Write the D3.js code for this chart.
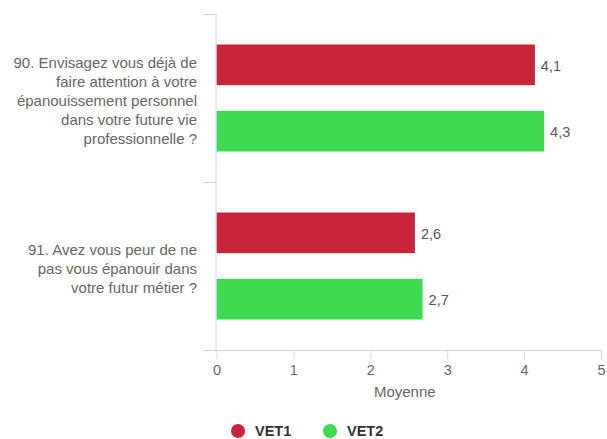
<!DOCTYPE html>
<html><head><meta charset="utf-8">
<script src="https://cdn.jsdelivr.net/npm/d3@7"></script>
<style>body{margin:0;background:#fff;font-family:"Liberation Sans",Arial,Helvetica,sans-serif}</style>
</head><body><svg id="c" width="607" height="439"></svg>
<script>
const categories = [
  ["90. Envisagez vous déjà de","faire attention à votre","épanouissement personnel","dans votre future vie","professionnelle ?"],
  ["91. Avez vous peur de ne","pas vous épanouir dans","votre futur métier ?"]
];
const seriesNames = ["VET1","VET2"];
const seriesColors = ["#c9253a","#3dd94f"];
const vet1 = [4.14, 2.58];
const vet2 = [4.26, 2.68];
const xTicks = [0,1,2,3,4,5];
const xTitle = "Moyenne";

const svg = d3.select("#c");
const L = 216.5, R = 601, T = 14, B = 350;
const x = d3.scaleLinear().domain([0,5]).range([L,R]);
const y0 = d3.scaleBand().domain(d3.range(categories.length)).range([T,B]);
const y1 = d3.scaleBand().domain([0,1]).range([0,y0.bandwidth()]).paddingInner(0.388).paddingOuter(0.46);
const axisColor = "#ccd6eb";

// bars
const series = [vet1, vet2];
series.forEach((vals, si) => {
  svg.append("g").selectAll("rect").data(vals).join("rect")
    .attr("x", x(0)).attr("y", (d,i) => y0(i) + y1(si))
    .attr("width", d => x(d) - x(0)).attr("height", y1.bandwidth())
    .attr("fill", seriesColors[si]);
  svg.append("g").selectAll("text").data(vals).join("text")
    .attr("x", d => x(d) + 6).attr("y", (d,i) => y0(i) + y1(si) + y1.bandwidth()/2 + 1)
    .attr("dy","0.35em").attr("font-size",14.5).attr("fill","#555")
    .text(d => d.toFixed(1).replace(".",","));
});

// x axis
const xa = svg.append("g").attr("transform",`translate(0,${B})`)
  .call(d3.axisBottom(x).tickValues(xTicks).tickSize(9).tickPadding(6).tickFormat(d=>d));
xa.select(".domain").attr("stroke",axisColor).attr("d",`M${L-13},0.5H${R}`);
xa.selectAll(".tick line").attr("stroke",axisColor);
xa.selectAll(".tick text").attr("fill","#666").attr("font-size",14.5).attr("font-family","Liberation Sans, Arial");
svg.append("text").attr("x",(L+R)/2 - 4).attr("y",B+42).attr("dy","0.35em").attr("text-anchor","middle")
  .attr("fill","#666").attr("font-size",15).text(xTitle);

// y axis
svg.append("line").attr("x1",L-0.5).attr("x2",L-0.5).attr("y1",T).attr("y2",B).attr("stroke",axisColor);
const bounds = [T, ...categories.map((c,i)=>y0(i)+y0.bandwidth())];
svg.append("g").selectAll("line").data(bounds).join("line")
  .attr("x1",L-13).attr("x2",L).attr("y1",d=>Math.round(d)+0.5).attr("y2",d=>Math.round(d)+0.5).attr("stroke",axisColor);

// category labels
categories.forEach((lines,i) => {
  const cy = y0(i) + y0.bandwidth()/2 + 3;
  const lh = 19;
  const t = svg.append("text").attr("text-anchor","end").attr("fill","#666").attr("font-size",15);
  lines.forEach((ln,k) => {
    t.append("tspan").attr("x",197).attr("y", cy + (k - (lines.length-1)/2)*lh).attr("dy","0.35em").text(ln);
  });
});

// legend
const lg = svg.append("g");
const lx = [238, 330];
seriesNames.forEach((n,i)=>{
  lg.append("circle").attr("cx",lx[i]).attr("cy",431).attr("r",7).attr("fill",seriesColors[i]);
  lg.append("text").attr("x",lx[i]+17).attr("y",430.5).attr("dy","0.35em").attr("font-size",14.5)
    .attr("font-weight","bold").attr("fill","#333").text(n);
});
</script></body></html>
